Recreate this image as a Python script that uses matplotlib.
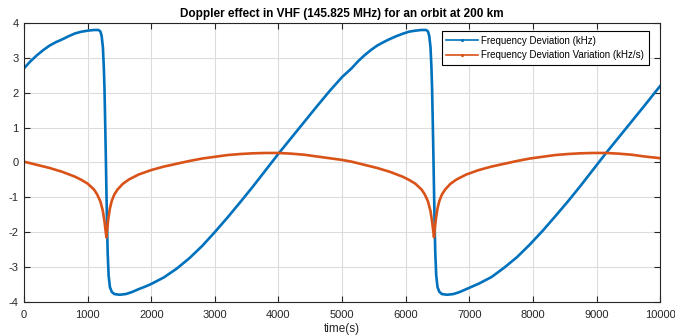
import matplotlib
matplotlib.use("Agg")
import matplotlib.pyplot as plt
from matplotlib.lines import Line2D

plt.rcParams['font.family'] = ['Liberation Sans', 'DejaVu Sans']
plt.rcParams['axes.unicode_minus'] = False

# valores (tiempo en s)
t_dev = [0, 100, 200, 300, 400, 500, 600, 700, 800, 900, 1000, 1100, 1170, 1200, 1220, 1240,
         1255, 1265, 1275, 1285, 1295, 1305, 1315, 1330, 1350, 1380, 1420, 1500, 1600, 1700,
         1800, 1900, 2000, 2200, 2400, 2600, 2800, 3000, 3200, 3400, 3600, 3800, 4000, 4200,
         4400, 4600, 4800, 5000, 5150,
         5250, 5350, 5450, 5550, 5650, 5750, 5850, 5950, 6050, 6150, 6250, 6320, 6350, 6370,
         6390, 6405, 6415, 6425, 6435, 6445, 6455, 6465, 6480, 6500, 6530, 6570, 6650, 6750,
         6850, 6950, 7050, 7150, 7350, 7550, 7750, 7950, 8150, 8350, 8550, 8750, 8950, 9150,
         9350, 9550, 9750, 9950, 10000]
f_dev = [2.70, 2.90, 3.07, 3.22, 3.35, 3.45, 3.53, 3.62, 3.70, 3.75, 3.78, 3.80, 3.80, 3.76,
         3.63, 3.30, 2.70, 2.10, 1.20, 0.25, -0.80, -1.80, -2.60, -3.25, -3.58, -3.72, -3.78,
         -3.80, -3.78, -3.72, -3.64, -3.57, -3.49, -3.30, -3.05, -2.75, -2.40, -2.00, -1.58,
         -1.14, -0.69, -0.22, 0.25, 0.70, 1.15, 1.60, 2.04, 2.45, 2.70,
         2.90, 3.07, 3.22, 3.35, 3.45, 3.54, 3.62, 3.69, 3.75, 3.78, 3.80, 3.80, 3.76, 3.63,
         3.30, 2.70, 2.10, 1.20, 0.25, -0.80, -1.80, -2.60, -3.25, -3.58, -3.72, -3.78, -3.80,
         -3.78, -3.72, -3.64, -3.56, -3.48, -3.29, -3.02, -2.72, -2.36, -1.97, -1.55, -1.12,
         -0.67, -0.20, 0.27, 0.72, 1.17, 1.62, 2.08, 2.19]

t_var = [0, 200, 400, 600, 800, 900, 1000, 1100, 1150, 1200, 1240, 1265, 1285, 1295, 1305,
         1325, 1350, 1380, 1420, 1470, 1550, 1650, 1800, 2000, 2200, 2400, 2600, 2800, 3000,
         3200, 3400, 3600, 3800, 4000, 4200, 4400, 4600, 4800, 5000, 5150,
         5350, 5550, 5750, 5950, 6050, 6150, 6250, 6300, 6350, 6390, 6415, 6435, 6445, 6455,
         6475, 6500, 6530, 6570, 6620, 6700, 6800, 6950, 7150, 7350, 7550, 7750, 7950, 8150,
         8350, 8550, 8750, 8950, 9150, 9350, 9550, 9750, 9950, 10000]
f_var = [0.02, -0.07, -0.16, -0.27, -0.41, -0.50, -0.61, -0.78, -0.92, -1.12, -1.40, -1.70,
         -2.00, -2.15, -1.95, -1.62, -1.32, -1.10, -0.92, -0.78, -0.62, -0.49, -0.35, -0.22,
         -0.12, -0.04, 0.04, 0.11, 0.16, 0.21, 0.24, 0.26, 0.27, 0.27, 0.25, 0.22, 0.17, 0.12,
         0.07, 0.02,
         -0.07, -0.16, -0.27, -0.41, -0.50, -0.61, -0.78, -0.92, -1.12, -1.40, -1.70, -2.00,
         -2.15, -1.95, -1.62, -1.32, -1.10, -0.92, -0.78, -0.62, -0.49, -0.35, -0.22, -0.12,
         -0.04, 0.04, 0.11, 0.16, 0.21, 0.24, 0.26, 0.27, 0.27, 0.25, 0.22, 0.17, 0.13, 0.12]

azul = '#0072BD'
naranja = '#D95319'
gris = '#262626'

fig = plt.figure(figsize=(6.75, 3.36), dpi=100)
ax = fig.add_axes([0.0356, 0.102, 0.9424, 0.8295])

ax.plot(t_dev, f_dev, color=azul, lw=1.9, solid_joinstyle='round')
ax.plot(t_var, f_var, color=naranja, lw=1.9, solid_joinstyle='round')

ax.set_xlim(0, 10000)
ax.set_ylim(-4, 4)
ax.set_xticks(range(0, 10001, 1000))
ax.set_yticks(range(-4, 5, 1))
ax.grid(True, color='#dcdcdc', lw=0.8)
ax.set_axisbelow(True)
ax.tick_params(direction='in', top=True, right=True, length=4, width=0.8,
               labelsize=8, colors=gris)
ax.tick_params(axis='x', pad=6)
ax.tick_params(axis='y', pad=4)
for s in ax.spines.values():
    s.set_color(gris)
    s.set_linewidth(0.8)

ax.set_title('Doppler effect in VHF (145.825 MHz) for an orbit at 200 km',
             fontsize=8.5, fontweight='bold', pad=4)
ax.set_xlabel('time(s)', fontsize=8.5, color=gris, labelpad=2)

handles = [Line2D([], [], color=azul, lw=1.2, marker='.', markersize=2.5),
           Line2D([], [], color=naranja, lw=1.2, marker='.', markersize=2.5)]
leg = ax.legend(handles, ['Frequency Deviation (kHz)', 'Frequency Deviation Variation (kHz/s)'],
                loc='upper right', bbox_to_anchor=(0.982, 0.97), fontsize=7,
                fancybox=False, framealpha=1, edgecolor='black', handlelength=3.2,
                borderpad=0.45, labelspacing=0.45, handletextpad=0.4, borderaxespad=0)
leg.get_frame().set_linewidth(0.8)

fig.savefig('out.png', dpi=100)
